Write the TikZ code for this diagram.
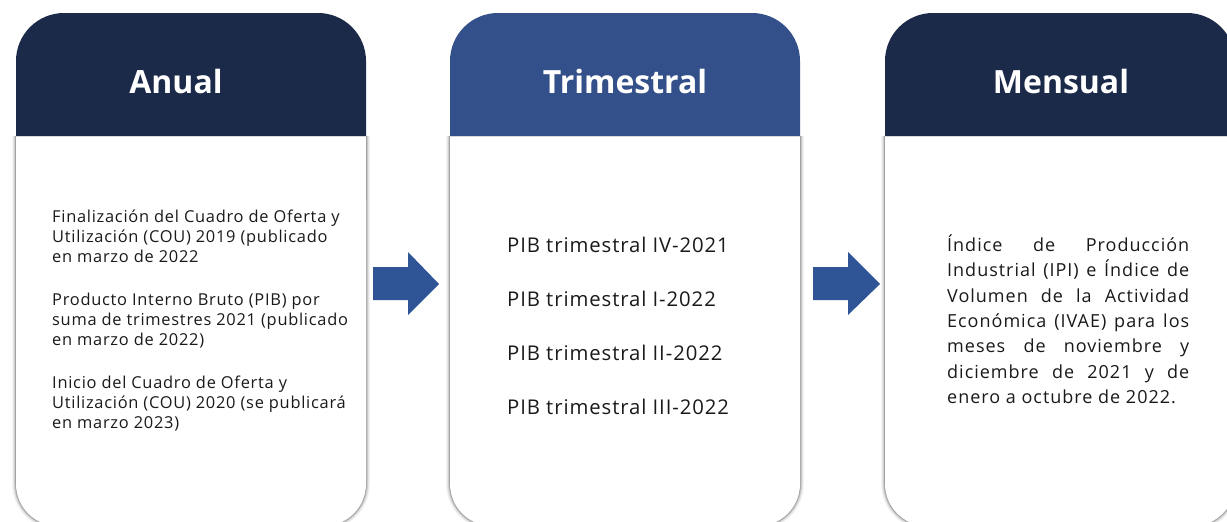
\documentclass[tikz,border=0pt]{standalone}
\usepackage{fontspec}
\setmainfont{Open Sans}
\definecolor{navy}{HTML}{1C2A49}
\definecolor{midblue}{HTML}{34508A}
\definecolor{arrowblue}{HTML}{2F5597}
\definecolor{txt}{HTML}{1A1A1A}
\tikzset{
  title/.style={text=white, font=\fontsize{32}{40}\selectfont\bfseries, anchor=base},
  anualtxt/.style={text=txt, font=\fontsize{16.4}{20}\selectfont\addfontfeature{LetterSpace=4.5}, anchor=base west, inner sep=0pt},
  trimtxt/.style={text=txt, font=\fontsize{20.3}{23}\selectfont\addfontfeature{LetterSpace=4.5}, anchor=base west, inner sep=0pt},
  mentxt/.style={text=txt, font=\fontsize{18}{21}\selectfont\addfontfeature{LetterSpace=5.5}, anchor=base west, inner sep=0pt},
  blockarrow/.style={fill=arrowblue}
}
\newcommand{\mycard}[3]{%
  \fill[#3, rounded corners=48pt] (#1,200) -- (#1,13) -- (#2,13) -- (#2,200);
  \foreach \w/\o in {8/0.04, 6/0.06, 4/0.08, 2.5/0.12, 1.2/0.18}
    \draw[line width=\w pt, black, opacity=\o, rounded corners=42pt] (#1,136) -- (#1,526) -- (#2,526) -- (#2,136);
  \fill[white, rounded corners=42pt] (#1,136) -- (#1,526) -- (#2,526) -- (#2,136);
  \draw[black, opacity=0.15, line width=1pt] (#1,136.5) -- (#2,136.5);
}
\begin{document}
\begin{tikzpicture}[x=1pt, y=-1pt]
\useasboundingbox (0,0) rectangle (1227,522);
\fill[white] (0,0) rectangle (1227,522);
\clip (0,0) rectangle (1227,522);

% cards
\mycard{16}{366}{navy}
\mycard{450}{800}{midblue}
\mycard{885}{1235}{navy}

% titles
\node[title] (tA) at (176,93) {Anual};
\node[title] (tT) at (625,93) {Trimestral};
\node[title] (tM) at (1061,93) {Mensual};

% Anual text
\node[anualtxt] (a1) at (52,222) {Finalización del Cuadro de Oferta y};
\node[anualtxt] (a2) at (52,242) {Utilización (COU) 2019 (publicado};
\node[anualtxt] (a3) at (52,262) {en marzo de 2022};
\node[anualtxt] (a4) at (52,305) {Producto Interno Bruto (PIB) por};
\node[anualtxt] (a5) at (52,325) {suma de trimestres 2021 (publicado};
\node[anualtxt] (a6) at (52,345) {en marzo de 2022)};
\node[anualtxt] (a7) at (52,388) {Inicio del Cuadro de Oferta y};
\node[anualtxt] (a8) at (52,408) {Utilización (COU) 2020 (se publicará};
\node[anualtxt] (a9) at (52,428) {en marzo 2023)};

% Trimestral text
\node[trimtxt] (t1) at (507,252) {PIB trimestral IV-2021};
\node[trimtxt] (t2) at (507,306) {PIB trimestral I-2022};
\node[trimtxt] (t3) at (507,360) {PIB trimestral II-2022};
\node[trimtxt] (t4) at (507,414) {PIB trimestral III-2022};

% Mensual text
\node[mentxt] (m1) at (947,251) {\makebox[242pt][s]{Índice de Producción}};
\node[mentxt] (m2) at (947,276) {\makebox[242pt][s]{Industrial (IPI) e Índice de}};
\node[mentxt] (m3) at (947,302) {\makebox[242pt][s]{Volumen de la Actividad}};
\node[mentxt] (m4) at (947,327) {\makebox[242pt][s]{Económica (IVAE) para los}};
\node[mentxt] (m5) at (947,352) {\makebox[242pt][s]{meses de noviembre y}};
\node[mentxt] (m6) at (947,378) {\makebox[242pt][s]{diciembre de 2021 y de}};
\node[mentxt] (m7) at (947,403) {enero a octubre de 2022.};

% arrows
\fill[blockarrow] (373,267) -- (408,267) -- (408,252) -- (439,284) -- (408,315) -- (408,300) -- (373,300) -- cycle;
\fill[blockarrow] (813,267) -- (848,267) -- (848,252) -- (880,284) -- (848,315) -- (848,300) -- (813,300) -- cycle;
\end{tikzpicture}
\end{document}
